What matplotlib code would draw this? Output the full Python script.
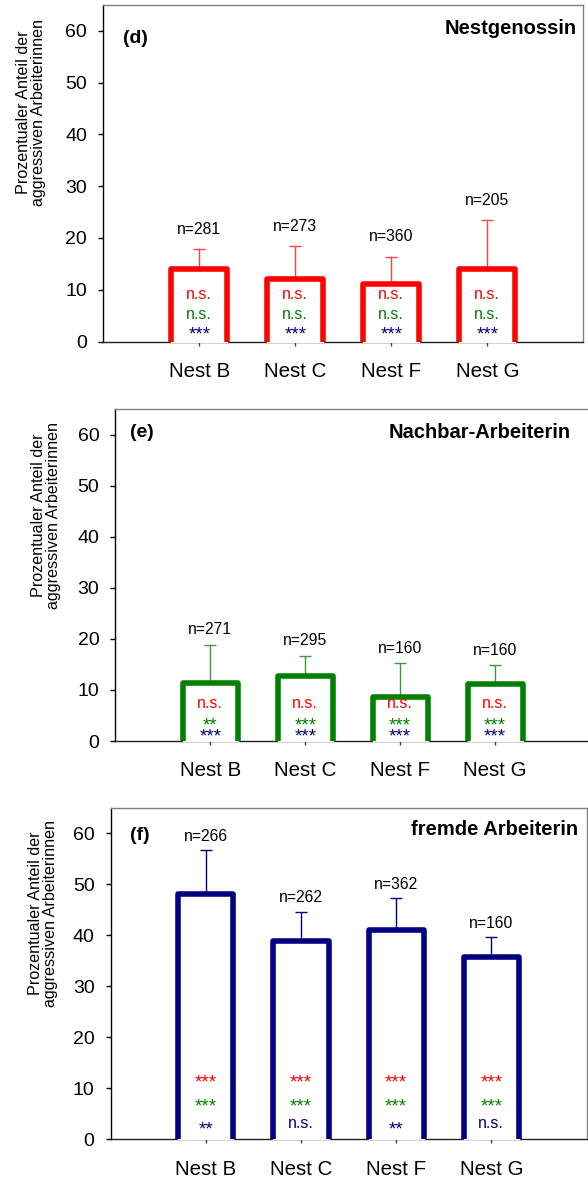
import matplotlib
matplotlib.use('Agg')
import matplotlib.pyplot as plt

plt.rcParams['font.family'] = ['Liberation Sans', 'DejaVu Sans']

nests = ['Nest B', 'Nest C', 'Nest F', 'Nest G']

# (d) Nestgenossin
d_mean = [14.0, 12.0, 11.1, 14.0]
d_err = [3.8, 6.4, 5.3, 9.4]
d_n = [281, 273, 360, 205]
d_sig_red = ['n.s.', 'n.s.', 'n.s.', 'n.s.']
d_sig_green = ['n.s.', 'n.s.', 'n.s.', 'n.s.']
d_sig_blue = ['***', '***', '***', '***']

# (e) Nachbar-Arbeiterin
e_mean = [11.4, 12.7, 8.7, 11.1]
e_err = [7.4, 4.0, 6.5, 3.7]
e_n = [271, 295, 160, 160]
e_sig_red = ['n.s.', 'n.s.', 'n.s.', 'n.s.']
e_sig_green = ['**', '***', '***', '***']
e_sig_blue = ['***', '***', '***', '***']

# (f) fremde Arbeiterin
f_mean = [48.0, 38.9, 41.1, 35.8]
f_err = [8.6, 5.7, 6.2, 3.8]
f_n = [266, 262, 362, 160]
f_sig_red = ['***', '***', '***', '***']
f_sig_green = ['***', '***', '***', '***']
f_sig_blue = ['**', 'n.s.', '**', 'n.s.']

RED = '#ff0000'
GREEN = '#008000'
NAVY = '#000080'

fig = plt.figure(figsize=(5.88, 11.81), dpi=100)

W, H = 588.0, 1181.0
PX_PER_UNIT = 5.15


def make_axes(left, right, top, zero):
    return fig.add_axes([left / W, (H - zero) / H, (right - left) / W, (zero - top) / H])


panels = [
    dict(ax=make_axes(103.3, 583.3, 5, 341.5), mean=d_mean, err=d_err, n=d_n,
         sig=[d_sig_red, d_sig_green, d_sig_blue], sig_y=[9.1, 5.1, 2.45],
         color=RED, ecolor='#ff4040', tag='(d)', title='Nestgenossin',
         noff=3.0, ylab_px=31, left=103.3, right=583.3,
         tag_pos=(19.5, 0.899), title_pos=(6.6, 0.93)),
    dict(ax=make_axes(115.4, 590, 409, 741), mean=e_mean, err=e_err, n=e_n,
         sig=[e_sig_red, e_sig_green, e_sig_blue], sig_y=[7.2, 4.25, 2.0],
         color=GREEN, ecolor='#3a9a3a', tag='(e)', title='Nachbar-Arbeiterin',
         noff=2.1, ylab_px=46, left=115.4, right=590,
         tag_pos=(14.3, 0.928), title_pos=(19, 0.929)),
    dict(ax=make_axes(110.7, 586.5, 807.5, 1139.3), mean=f_mean, err=f_err, n=f_n,
         sig=[f_sig_red, f_sig_green, f_sig_blue], sig_y=[12.25, 7.55, 3.1],
         color=NAVY, ecolor=NAVY, tag='(f)', title='fremde Arbeiterin',
         noff=1.8, ylab_px=43, left=110.7, right=586.5,
         tag_pos=(19.3, 0.917), title_pos=(8.5, 0.934)),
]

sig_colors = [RED, GREEN, NAVY]
width = 0.58
xs = [1, 2, 3, 4]

for p in panels:
    ax = p['ax']
    # error bars (upper only)
    ax.errorbar(xs, p['mean'], yerr=[[0] * 4, p['err']], fmt='none',
                ecolor=p['ecolor'], elinewidth=1.0, capsize=4.3, capthick=1.0, zorder=2)
    # open bars
    for x, m in zip(xs, p['mean']):
        ax.fill_between([x - width / 2, x + width / 2], 0, m, color='white', zorder=3)
        ax.plot([x - width / 2, x - width / 2, x + width / 2, x + width / 2],
                [0, m, m, 0], color=p['color'], lw=4.0, zorder=4,
                solid_joinstyle='round', solid_capstyle='butt')
    # n labels
    for x, m, e, n in zip(xs, p['mean'], p['err'], p['n']):
        ax.text(x, m + e + p['noff'], 'n=%d' % n, ha='center', va='baseline',
                fontsize=11.3, color='black', zorder=5)
    # significance (y = centre of glyphs)
    for row, yy, c in zip(p['sig'], p['sig_y'], sig_colors):
        for x, s in zip(xs, row):
            if s.startswith('*'):
                fs = 13.5
                shift = 0.575 * fs * 100 / 72 / PX_PER_UNIT
            else:
                fs = 11.5
                shift = 0.26 * fs * 100 / 72 / PX_PER_UNIT
            ax.text(x, yy - shift, s, ha='center', va='baseline', fontsize=fs,
                    color=c, zorder=5)

    ax.set_xlim(0, 5)
    ax.set_ylim(0, 65)
    ax.set_yticks([0, 10, 20, 30, 40, 50, 60])
    ax.set_xticks(xs)
    ax.set_xticklabels(nests)
    ax.tick_params(axis='y', direction='out', length=3.6, width=1, labelsize=14, pad=8)
    ax.tick_params(axis='x', direction='out', length=2.6, width=1, labelsize=14.8, pad=12,
                   color='#404040')
    ax.spines['left'].set_color('black')
    ax.spines['bottom'].set_color('#202020')
    ax.spines['top'].set_color('#808080')
    ax.spines['right'].set_color('#808080')
    for s in ax.spines.values():
        s.set_linewidth(1.0)

    span = p['right'] - p['left']
    ax.text(p['tag_pos'][0] / span, p['tag_pos'][1], p['tag'], transform=ax.transAxes,
            fontsize=14, fontweight='bold', ha='left', va='center')
    ax.text(1 - p['title_pos'][0] / span, p['title_pos'][1], p['title'],
            transform=ax.transAxes, fontsize=14.5, fontweight='bold',
            ha='right', va='center')
    ax.text((p['ylab_px'] - p['left']) / span, 0.68,
            'Prozentualer Anteil der\naggressiven Arbeiterinnen',
            transform=ax.transAxes, rotation=90, ha='center', va='center',
            fontsize=11.6, linespacing=0.92)

fig.savefig('out.png', dpi=100)
